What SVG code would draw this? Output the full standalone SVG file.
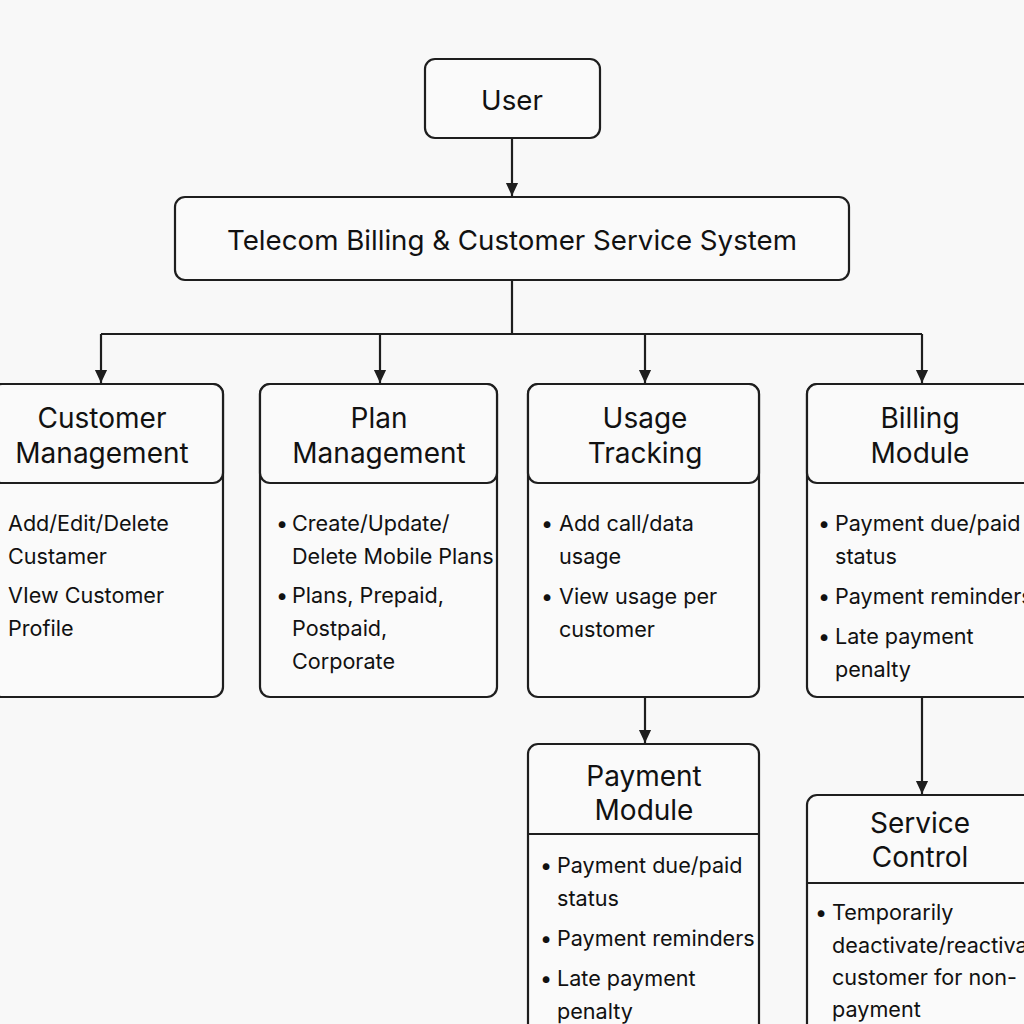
<svg xmlns="http://www.w3.org/2000/svg" width="1024" height="1024" viewBox="0 0 1024 1024">
<style>
.box{fill:#fafafa;stroke:#1e1e1e;stroke-width:2.2}
.div{stroke:#1e1e1e;stroke-width:1.8;fill:none}
.con{stroke:#1e1e1e;stroke-width:2.2;fill:none}
text{font-family:Inter,"Liberation Sans",sans-serif;fill:#111}
.t{font-size:28px;text-anchor:middle}
.top{font-size:27.7px;text-anchor:middle}
.it{font-size:21.6px}
</style>
<defs>
<marker id="arrd" markerUnits="userSpaceOnUse" markerWidth="14" markerHeight="16" refX="15" refY="7" orient="auto" viewBox="0 0 16 14">
<path d="M0,0 L15,7 L0,14 Z" fill="#1e1e1e"/>
</marker>
</defs>
<rect width="1024" height="1024" fill="#f8f8f8"/>

<g id="connectors">
<path class="con" d="M512,138 V196" marker-end="url(#arrd)"/>
<path class="con" d="M512,280 V334 M101,334 H922"/>
<path class="con" d="M101,334 V383" marker-end="url(#arrd)"/>
<path class="con" d="M380,334 V383" marker-end="url(#arrd)"/>
<path class="con" d="M645,334 V383" marker-end="url(#arrd)"/>
<path class="con" d="M922,334 V383" marker-end="url(#arrd)"/>
<path class="con" d="M645,697 V743" marker-end="url(#arrd)"/>
<path class="con" d="M922,697 V794" marker-end="url(#arrd)"/>
</g>

<g id="user">
<rect class="box" x="425" y="59" width="175" height="79" rx="10"/>
<text class="top" x="512" y="110">User</text>
</g>

<g id="system">
<rect class="box" x="175" y="197" width="674" height="83" rx="10"/>
<text class="top" x="512" y="250">Telecom Billing &amp; Customer Service System</text>
</g>

<g id="customer-management">
<rect class="box" x="-8" y="384" width="231" height="313" rx="10"/>
<rect class="box" x="-8" y="384" width="231" height="99" rx="10"/>
<text class="t" x="102" y="428">Customer</text>
<text class="t" x="102" y="463">Management</text>
<text class="it" x="8" y="531">Add/Edit/Delete</text>
<text class="it" x="8" y="564">Custamer</text>
<text class="it" x="8" y="603">VIew Customer</text>
<text class="it" x="8" y="636">Profile</text>
</g>

<g id="plan-management">
<rect class="box" x="260" y="384" width="237" height="313" rx="10"/>
<rect class="box" x="260" y="384" width="237" height="99" rx="10"/>
<text class="t" x="379" y="428">Plan</text>
<text class="t" x="379" y="463">Management</text>
<text class="it" x="276" y="531">•</text>
<text class="it" x="292" y="531">Create/Update/</text>
<text class="it" x="292" y="564">Delete Mobile Plans</text>
<text class="it" x="276" y="603">•</text>
<text class="it" x="292" y="603">Plans, Prepaid,</text>
<text class="it" x="292" y="636">Postpaid,</text>
<text class="it" x="292" y="669">Corporate</text>
</g>

<g id="usage-tracking">
<rect class="box" x="528" y="384" width="231" height="313" rx="10"/>
<rect class="box" x="528" y="384" width="231" height="99" rx="10"/>
<text class="t" x="645" y="428">Usage</text>
<text class="t" x="645" y="463">Tracking</text>
<text class="it" x="541" y="531">•</text>
<text class="it" x="559" y="531">Add call/data</text>
<text class="it" x="559" y="564">usage</text>
<text class="it" x="541" y="604">•</text>
<text class="it" x="559" y="604">View usage per</text>
<text class="it" x="559" y="637">customer</text>
</g>

<g id="billing-module">
<rect class="box" x="807" y="384" width="230" height="313" rx="10"/>
<rect class="box" x="807" y="384" width="230" height="99" rx="10"/>
<text class="t" x="920" y="428">Billing</text>
<text class="t" x="920" y="463">Module</text>
<text class="it" x="818" y="531">•</text>
<text class="it" x="835" y="531">Payment due/paid</text>
<text class="it" x="835" y="564">status</text>
<text class="it" x="818" y="604">•</text>
<text class="it" x="835" y="604">Payment reminders</text>
<text class="it" x="818" y="644">•</text>
<text class="it" x="835" y="644">Late payment</text>
<text class="it" x="835" y="677">penalty</text>
</g>

<g id="payment-module">
<rect class="box" x="528" y="744" width="231" height="300" rx="10"/>
<line class="div" x1="528" y1="834" x2="759" y2="834"/>
<text class="t" x="644" y="786">Payment</text>
<text class="t" x="644" y="820">Module</text>
<text class="it" x="540" y="873">•</text>
<text class="it" x="557" y="873">Payment due/paid</text>
<text class="it" x="557" y="906">status</text>
<text class="it" x="540" y="946">•</text>
<text class="it" x="557" y="946">Payment reminders</text>
<text class="it" x="540" y="986">•</text>
<text class="it" x="557" y="986">Late payment</text>
<text class="it" x="557" y="1019">penalty</text>
</g>

<g id="service-control">
<rect class="box" x="807" y="795" width="230" height="250" rx="10"/>
<line class="div" x1="807" y1="883" x2="1037" y2="883"/>
<text class="t" x="920" y="833">Service</text>
<text class="t" x="920" y="867">Control</text>
<text class="it" x="815" y="920">•</text>
<text class="it" x="832" y="920">Temporarily</text>
<text class="it" x="832" y="953">deactivate/reactivate</text>
<text class="it" x="832" y="985">customer for non-</text>
<text class="it" x="832" y="1017">payment</text>
</g>
</svg>
